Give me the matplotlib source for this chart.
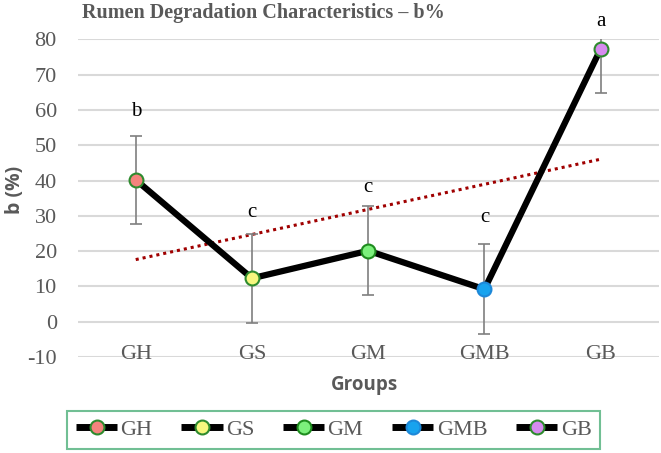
import numpy as np
import matplotlib
matplotlib.use("Agg")
import matplotlib.pyplot as plt
from matplotlib.lines import Line2D

groups = ["GH", "GS", "GM", "GMB", "GB"]
b_values = [40.2, 12.3, 20.1, 9.2, 77.3]
b_errors = [12.5, 12.6, 12.6, 12.7, 12.5]
letters = ["b", "c", "c", "c", "a"]
letter_y = [59.5, 30.8, 37.9, 29.4, 85.0]
marker_faces = ["#F4837D", "#F6F77E", "#7CF07C", "#18A3EE", "#D68BEF"]
marker_edges = ["#2E8B2E", "#2E8B2E", "#1E8C1E", "#1E88D8", "#2E8B2E"]
yticks = list(range(-10, 81, 10))

serif = ["Liberation Serif", "DejaVu Serif"]
sans = ["Open Sans", "DejaVu Sans"]
gray = "#595959"

fig = plt.figure(figsize=(6.61, 4.53), dpi=100)
ax = fig.add_axes([0.1174, 0.2119, 0.8793, 0.7013])

x = np.arange(len(groups))
ax.set_xlim(-0.5, len(groups) - 0.5)
ax.set_ylim(-10, 80)

for yt in yticks:
    ax.axhline(yt, color="#D9D9D9", lw=1.5, zorder=0)

# trend line (linear fit)
coef = np.polyfit(x, b_values, 1)
ax.plot(x, np.polyval(coef, x), color="#A00000", lw=2.2, linestyle=(0, (1, 1.3)), zorder=2)

ax.errorbar(x, b_values, yerr=b_errors, fmt="none", ecolor="#7F7F7F",
            elinewidth=1.2, capsize=4, capthick=1.2, zorder=3)
ax.plot(x, b_values, color="black", lw=4.5, zorder=4, solid_capstyle="butt")
for xi, v, fc, ec in zip(x, b_values, marker_faces, marker_edges):
    ax.plot([xi], [v], marker="o", ms=10, mfc=fc, mec=ec, mew=1.5, zorder=5)

for xi, ly, t in zip(x, letter_y, letters):
    ax.text(xi, ly, t, ha="center", va="center", fontsize=15, family=serif,
            color="black", clip_on=False)

for s in ax.spines.values():
    s.set_visible(False)
ax.tick_params(length=0, labelcolor=gray)
ax.set_xticks(x)
ax.set_xticklabels(groups, family=serif, fontsize=16)
ax.set_yticks(yticks)
ax.set_yticklabels([str(t) for t in yticks], family=serif, fontsize=16)
ax.yaxis.set_tick_params(pad=15)
ax.xaxis.set_tick_params(pad=1.5)
for lbl in ax.get_xticklabels():
    lbl.set_verticalalignment("baseline")

fig.text(0.398, 0.971, "Rumen Degradation Characteristics \u2013 b%", ha="center", va="center",
         fontsize=14.5, fontweight="bold", family=serif, color=gray)
fig.text(0.023, 0.58, "b (%)", rotation=90, ha="center", va="center",
         fontsize=14, fontweight="bold", family=sans, color=gray)
fig.text(0.551, 0.150, "Groups", ha="center", va="center",
         fontsize=13.5, fontweight="bold", family=sans, color=gray)

handles = [Line2D([], [], color="black", lw=5, marker="o", ms=10, mfc=fc, mec=ec, mew=1.5,
                  solid_capstyle="butt")
           for fc, ec in zip(marker_faces, marker_edges)]
leg = fig.legend(handles, groups, loc="center", bbox_to_anchor=(0.505, 0.0508), ncol=5,
                 frameon=True, fancybox=False, handlelength=1.85, handletextpad=0.15,
                 columnspacing=1.3, borderpad=0.4, borderaxespad=0,
                 prop={"family": serif, "size": 16})
leg.get_frame().set_edgecolor("#4DB07A")
leg.get_frame().set_linewidth(1.5)
for t in leg.get_texts():
    t.set_color(gray)

fig.savefig("out.png", dpi=100)
